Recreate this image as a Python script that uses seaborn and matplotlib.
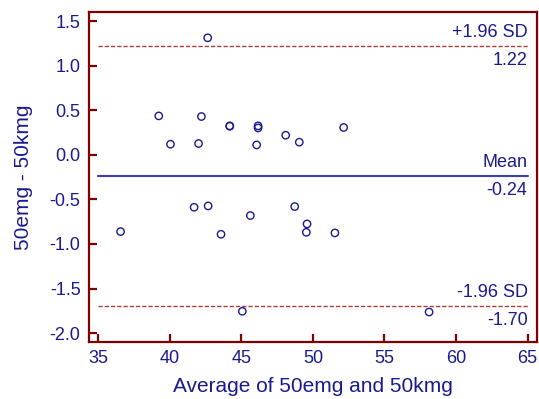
import numpy as np
import pandas as pd
import matplotlib
matplotlib.use("Agg")
import matplotlib.pyplot as plt
import seaborn as sns

# Data (average, difference)
average = [42.65, 39.23, 42.21, 44.19, 44.19, 46.17, 46.17, 40.05, 42.01, 46.07,
           48.10, 49.05, 52.15, 36.56, 41.70, 42.68, 43.58, 45.63, 48.73, 49.59,
           49.54, 51.54, 45.07, 58.12]
difference = [1.315, 0.438, 0.431, 0.326, 0.322, 0.326, 0.303, 0.120, 0.128, 0.112,
              0.221, 0.143, 0.308, -0.861, -0.588, -0.573, -0.891, -0.681, -0.580, -0.775,
              -0.869, -0.876, -1.756, -1.764]
mean_diff = -0.24
upper_loa = 1.22
lower_loa = -1.70
x_ticks = [35, 40, 45, 50, 55, 60, 65]
y_ticks = [-2.0, -1.5, -1.0, -0.5, 0.0, 0.5, 1.0, 1.5]

df = pd.DataFrame({"avg": average, "diff": difference})

sns.set_style("white")
plt.rcParams["font.family"] = ["Liberation Sans", "DejaVu Sans"]

navy = "#1a1a90"
spine_c = "#800000"
dash_c = "#b03a3a"
mean_c = "#3c3cb4"

fig = plt.figure(figsize=(5.39, 3.99), dpi=100)
ax = fig.add_axes([0.165, 0.143, 0.831, 0.827])

sns.scatterplot(data=df, x="avg", y="diff", ax=ax, marker="o", s=28,
                facecolor="none", edgecolor=navy, linewidth=1.0, zorder=3)

ax.plot([35, 65], [upper_loa, upper_loa], color=dash_c, lw=1.0, ls=(0, (3, 1.5)))
ax.plot([35, 65], [lower_loa, lower_loa], color=dash_c, lw=1.0, ls=(0, (3, 1.5)))
ax.plot([35, 65], [mean_diff, mean_diff], color=mean_c, lw=1.5)

fs = 13
def lab(y, top, bottom):
    ax.annotate(top, xy=(65, y), xytext=(0, 4), textcoords="offset points",
                ha="right", va="bottom", color=navy, fontsize=fs)
    ax.annotate(bottom, xy=(65, y), xytext=(0, -4), textcoords="offset points",
                ha="right", va="top", color=navy, fontsize=fs)

lab(upper_loa, "+1.96 SD", f"{upper_loa:.2f}")
lab(mean_diff, "Mean", f"{mean_diff:.2f}")
lab(lower_loa, "-1.96 SD", f"{lower_loa:.2f}")

ax.set_xlim(34.35, 65.65)
ax.set_ylim(-2.10, 1.605)
ax.set_xticks(x_ticks)
ax.set_yticks(y_ticks)
ax.set_yticklabels([f"{v:.1f}" for v in y_ticks])
ax.tick_params(axis="both", which="major", bottom=True, left=True, top=False, right=False,
               direction="in", length=6, width=1.6, color=spine_c,
               labelcolor=navy, labelsize=fs, pad=6)
for s in ax.spines.values():
    s.set_color(spine_c)
    s.set_linewidth(1.6)
    s.set_visible(True)

ax.set_xlabel("Average of 50emg and 50kmg", color=navy, fontsize=15, labelpad=7)
ax.set_ylabel("50emg - 50kmg", color=navy, fontsize=15, labelpad=12)

fig.savefig("out.png", dpi=100)
